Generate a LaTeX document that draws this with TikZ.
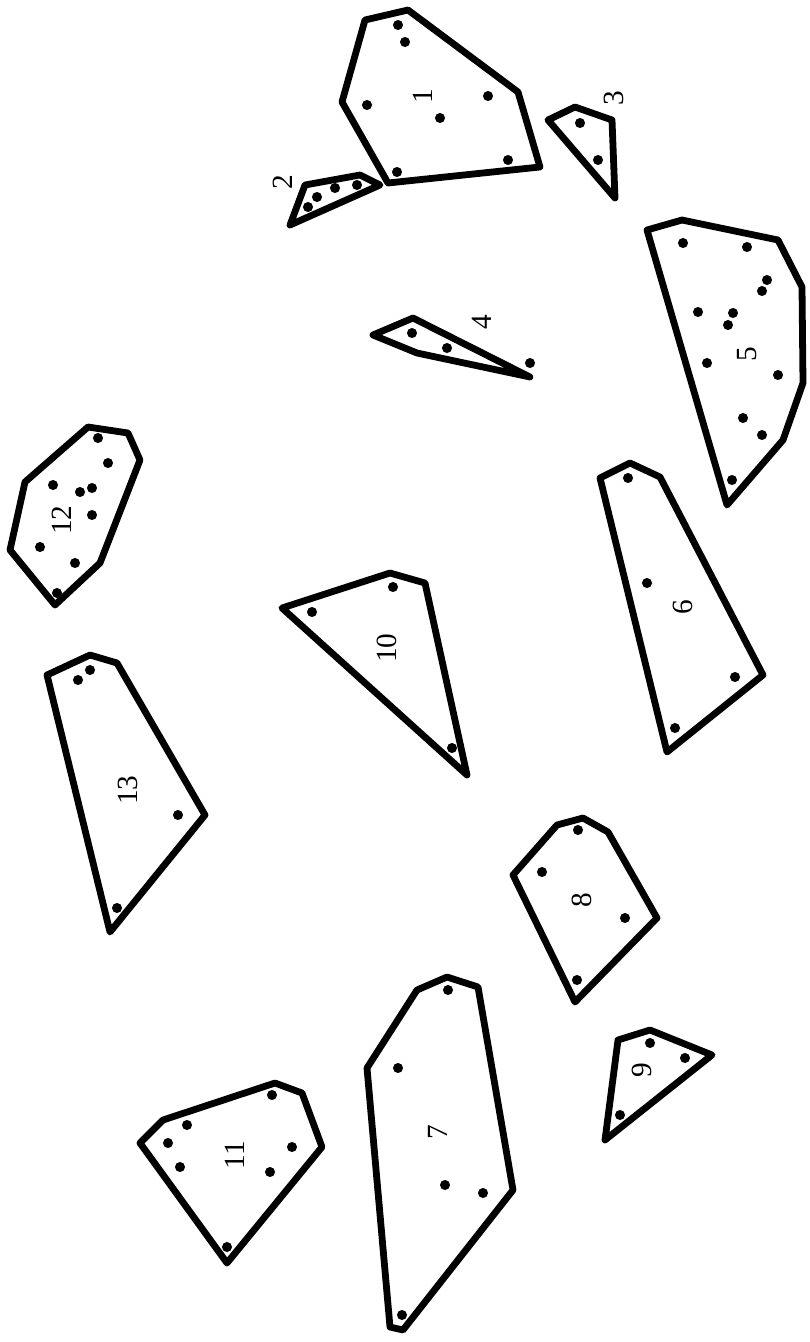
\documentclass[tikz,border=0pt]{standalone}
\usepackage{fontspec}
\setmainfont{Liberation Serif}
\usetikzlibrary{calc}

\begin{document}
\begin{tikzpicture}[x=0.03cm, y=-0.03cm,
    hull/.style={draw=black, line width=5.8pt, line join=round, line cap=round},
    pt/.style={fill=black},
    lbl/.style={rotate=90, inner sep=0pt, font=\fontsize{25}{28}\selectfont}]

    \useasboundingbox (0,0) rectangle (809,1342);

    % cluster 1
    \draw[hull] (408,10) -- (365,20) -- (342,102) -- (388,183) -- (540,167) -- (518,92) -- cycle;
    \foreach \p in {(398,25),(405,42),(367,105),(488,96),(440,118),(508,160),(397,172)}
      \fill[pt] \p circle (4.3pt);
    \node[lbl] (c1) at (423,96) {1};

    % cluster 2
    \draw[hull] (290,225) -- (305,185) -- (360,175) -- (380,185) -- cycle;
    \foreach \p in {(317,197),(335,188),(357,185),(308,207)}
      \fill[pt] \p circle (4.3pt);
    \node[lbl] (c2) at (283,182) {2};

    % cluster 3
    \draw[hull] (548,120) -- (575,107) -- (612,120) -- (615,198) -- cycle;
    \foreach \p in {(580,123),(598,160)}
      \fill[pt] \p circle (4.3pt);
    \node[lbl] (c3) at (614,98) {3};

    % cluster 4
    \draw[hull] (373,335) -- (413,318) -- (530,377) -- (417,353) -- cycle;
    \foreach \p in {(412,333),(447,348),(530,363)}
      \fill[pt] \p circle (4.3pt);
    \node[lbl] (c4) at (482,322) {4};

    % cluster 5
    \draw[hull] (647,230) -- (682,220) -- (778,240) -- (802,287) -- (803,383) -- (783,440) -- (727,505) -- cycle;
    \foreach \p in {(683,243),(747,247),(767,280),(762,291),(698,312),(733,313),(728,325),
                    (707,363),(778,375),(743,418),(762,435),(732,480)}
      \fill[pt] \p circle (4.3pt);
    \node[lbl] (c5) at (747,354) {5};

    % cluster 6
    \draw[hull] (600,478) -- (630,463) -- (660,477) -- (763,675) -- (667,752) -- cycle;
    \foreach \p in {(628,478),(647,583),(735,677),(675,728)}
      \fill[pt] \p circle (4.3pt);
    \node[lbl] (c6) at (683,607) {6};

    % cluster 7
    \draw[hull] (367,1068) -- (417,990) -- (447,977) -- (478,987) -- (513,1190) -- (403,1330) -- (390,1327) -- cycle;
    \foreach \p in {(448,990),(398,1068),(445,1185),(483,1193),(402,1315)}
      \fill[pt] \p circle (4.3pt);
    \node[lbl] (c7) at (438,1132) {7};

    % cluster 8
    \draw[hull] (513,875) -- (557,825) -- (583,818) -- (608,832) -- (657,918) -- (575,1002) -- cycle;
    \foreach \p in {(578,830),(542,872),(625,918),(577,980)}
      \fill[pt] \p circle (4.3pt);
    \node[lbl] (c8) at (582,900) {8};

    % cluster 9
    \draw[hull] (618,1040) -- (650,1030) -- (712,1055) -- (605,1140) -- cycle;
    \foreach \p in {(650,1043),(685,1058),(620,1115)}
      \fill[pt] \p circle (4.3pt);
    \node[lbl] (c9) at (642,1070) {9};

    % cluster 10
    \draw[hull] (282,608) -- (390,573) -- (425,583) -- (467,775) -- cycle;
    \foreach \p in {(312,612),(393,587),(452,748)}
      \fill[pt] \p circle (4.3pt);
    \node[lbl] (c10) at (387,648) {10};

    % cluster 11
    \draw[hull] (140,1143) -- (163,1120) -- (275,1083) -- (302,1093) -- (322,1147) -- (227,1263) -- cycle;
    \foreach \p in {(272,1095),(187,1125),(168,1143),(180,1167),(292,1147),(270,1172),(227,1247)}
      \fill[pt] \p circle (4.3pt);
    \node[lbl] (c11) at (235,1155) {11};

    % cluster 12
    \draw[hull] (10,550) -- (25,482) -- (88,427) -- (128,433) -- (140,460) -- (100,563) -- (55,605) -- cycle;
    \foreach \p in {(98,438),(108,463),(53,485),(80,492),(92,488),(92,515),(40,547),(75,563),(57,593)}
      \fill[pt] \p circle (4.3pt);
    \node[lbl] (c12) at (62,520) {12};

    % cluster 13
    \draw[hull] (47,675) -- (90,655) -- (117,663) -- (205,815) -- (110,932) -- cycle;
    \foreach \p in {(78,680),(90,670),(178,815),(117,908)}
      \fill[pt] \p circle (4.3pt);
    \node[lbl] (c13) at (128,790) {13};
\end{tikzpicture}
\end{document}
